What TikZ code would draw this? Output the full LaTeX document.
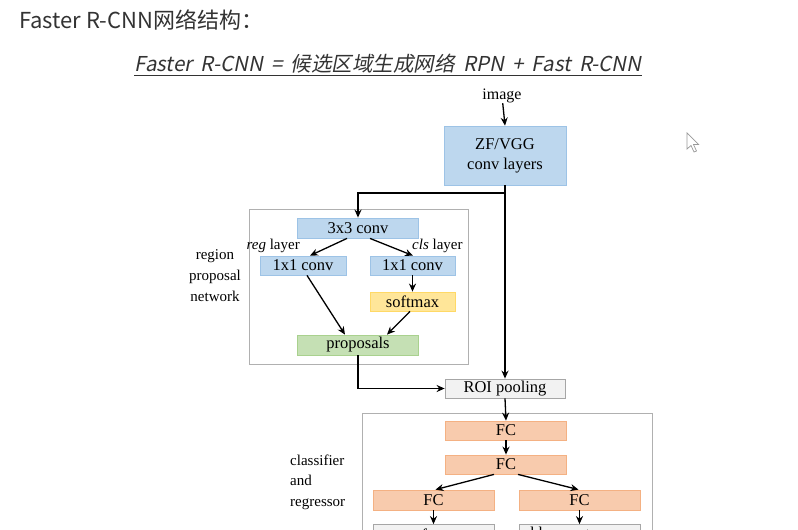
\documentclass[tikz,border=0pt]{standalone}
\usepackage{fontspec}
\setmainfont{Liberation Serif}
\newfontfamily\cjk{Noto Sans CJK SC}
\newfontfamily\cjkit[FakeSlant=0.2,WordSpace=1.8]{Noto Sans CJK SC}
\usetikzlibrary{arrows.meta,calc}
\definecolor{bfill}{HTML}{BDD7EE}\definecolor{bdraw}{HTML}{9DC3E6}
\definecolor{yfill}{HTML}{FFE699}\definecolor{ydraw}{HTML}{FFD966}
\definecolor{gfill}{HTML}{C5E0B4}\definecolor{gdraw}{HTML}{A9D18E}
\definecolor{pfill}{HTML}{F8CBAD}\definecolor{pdraw}{HTML}{F4B183}
\definecolor{rfill}{HTML}{F2F2F2}\definecolor{rdraw}{HTML}{A6A6A6}
\definecolor{cont}{HTML}{B0B0B0}
\definecolor{ttl}{HTML}{333333}
\tikzset{
  box/.style={rectangle, draw, line width=0.8pt, inner sep=0pt, font=\fontsize{16.5}{18}\selectfont},
  bluebox/.style={box, fill=bfill, draw=bdraw},
  yelbox/.style={box, fill=yfill, draw=ydraw},
  grnbox/.style={box, fill=gfill, draw=gdraw},
  pchbox/.style={box, fill=pfill, draw=pdraw},
  grybox/.style={box, fill=rfill, draw=rdraw},
  container/.style={rectangle, draw=cont, line width=0.9pt, inner sep=0pt},
  lbl/.style={font=\fontsize{15}{16}\selectfont, inner sep=0pt},
  arr/.style={line width=1.3pt, -{Stealth[length=8pt,width=7pt]}},
  ln/.style={line width=1.3pt}
}
\begin{document}
\begin{tikzpicture}[x=1pt,y=-1pt]
\useasboundingbox (0,0) rectangle (798,530);
\clip (0,0) rectangle (798,530);
% titles
\node[anchor=west, inner sep=0pt, text=ttl, font=\cjk\fontsize{22}{24}\selectfont] (title) at (19,20) {Faster R-CNN网络结构：};
\node[anchor=center, inner sep=0pt, text=ttl, font=\cjkit\fontsize{20.5}{22}\selectfont] (sub) at (388,64) {Faster R-CNN = 候选区域生成网络 RPN + Fast R-CNN};
\draw[ttl, line width=0.7pt] ($(sub.south west)+(0,2)$) -- ($(sub.south east)+(0,2)$);
% cursor
\draw[fill=white, draw=gray!80, line width=0.7pt] (687,133) -- (687,149) -- (691,145.5) -- (694,152) -- (696.5,151) -- (693.5,144.5) -- (698.5,144.5) -- cycle;
% containers
\node[container, minimum width=219pt, minimum height=155pt] (rpn) at (358.5,286.5) {};
\node[container, minimum width=290pt, minimum height=150pt] (clsbox) at (507,488) {};
% nodes
\node[lbl, font=\fontsize{16}{18}\selectfont] (image) at (502,96) {image};
\node[bluebox, minimum width=122pt, minimum height=59pt, align=center, font=\fontsize{16.5}{20}\selectfont] (zf) at (505,155.5) {ZF/VGG\\conv layers};
\node[bluebox, minimum width=121pt, minimum height=20pt] (conv3) at (358,228) {3x3 conv};
\node[bluebox, minimum width=86pt, minimum height=19pt] (convl) at (303,265.5) {1x1 conv};
\node[bluebox, minimum width=85pt, minimum height=19pt] (convr) at (412.5,265.5) {1x1 conv};
\node[yelbox, minimum width=85pt, minimum height=19pt] (soft) at (412.5,301.5) {softmax};
\node[grnbox, minimum width=121pt, minimum height=20pt] (prop) at (358,345) {proposals};
\node[grybox, minimum width=120pt, minimum height=19pt] (roi) at (505,388.5) {ROI pooling};
\node[pchbox, minimum width=121pt, minimum height=19pt] (fc1) at (506,430.5) {FC};
\node[pchbox, minimum width=121pt, minimum height=19pt] (fc2) at (506,464.5) {FC};
\node[pchbox, minimum width=121pt, minimum height=20pt] (fcl) at (433.5,500) {FC};
\node[pchbox, minimum width=121pt, minimum height=20pt] (fcr) at (579.5,500) {FC};
\node[grybox, minimum width=121pt, minimum height=21pt] (outl) at (433.5,535) {softmax};
\node[grybox, minimum width=121pt, minimum height=21pt] (outr) at (579.5,535) {bbox regressor};
% labels
\node[lbl, anchor=east] (reg) at (300,246) {\textit{reg} layer};
\node[lbl, anchor=west] (clsl) at (412,246) {\textit{cls} layer};
\node[lbl, align=center, font=\fontsize{15}{21}\selectfont] (rpnl) at (215,276) {region\\proposal\\network};
\node[lbl, align=left, anchor=west, font=\fontsize{15}{20.5}\selectfont] (clsr) at (290,482) {classifier\\and\\regressor};
% connectors
\draw[arr] (image) -- (zf.north);
\coordinate (br) at (zf.south |- 0,193);
\draw[arr] (zf.south) -- (zf.south |- roi.north);
\draw[arr] (br) -| (conv3.north);
\draw[arr] ($(conv3.south)+(-11,0)$) -- ($(convl.north)+(7,0)$);
\draw[arr] ($(conv3.south)+(12,0)$) -- ($(convr.north)+(0.5,0)$);
\draw[arr] (convr.south) -- (soft.north);
\draw[arr] ($(convl.south)+(4,0)$) -- ($(prop.north)+(-13,0)$);
\draw[arr] ($(soft.south)+(-2.5,0)$) -- ($(prop.north)+(29,0)$);
\draw[arr] (prop.south) |- (roi.west);
\draw[arr] (roi.south) -- (fc1.north);
\draw[arr] (fc1.south) -- (fc2.north);
\draw[arr] ($(fc2.south)+(-12,0)$) -- ($(fcl.north)+(2,0)$);
\draw[arr] ($(fc2.south)+(12,0)$) -- ($(fcr.north)+(-1,0)$);
\draw[arr] (fcl.south) -- (outl.north);
\draw[arr] (fcr.south) -- (outr.north);
\end{tikzpicture}
\end{document}
